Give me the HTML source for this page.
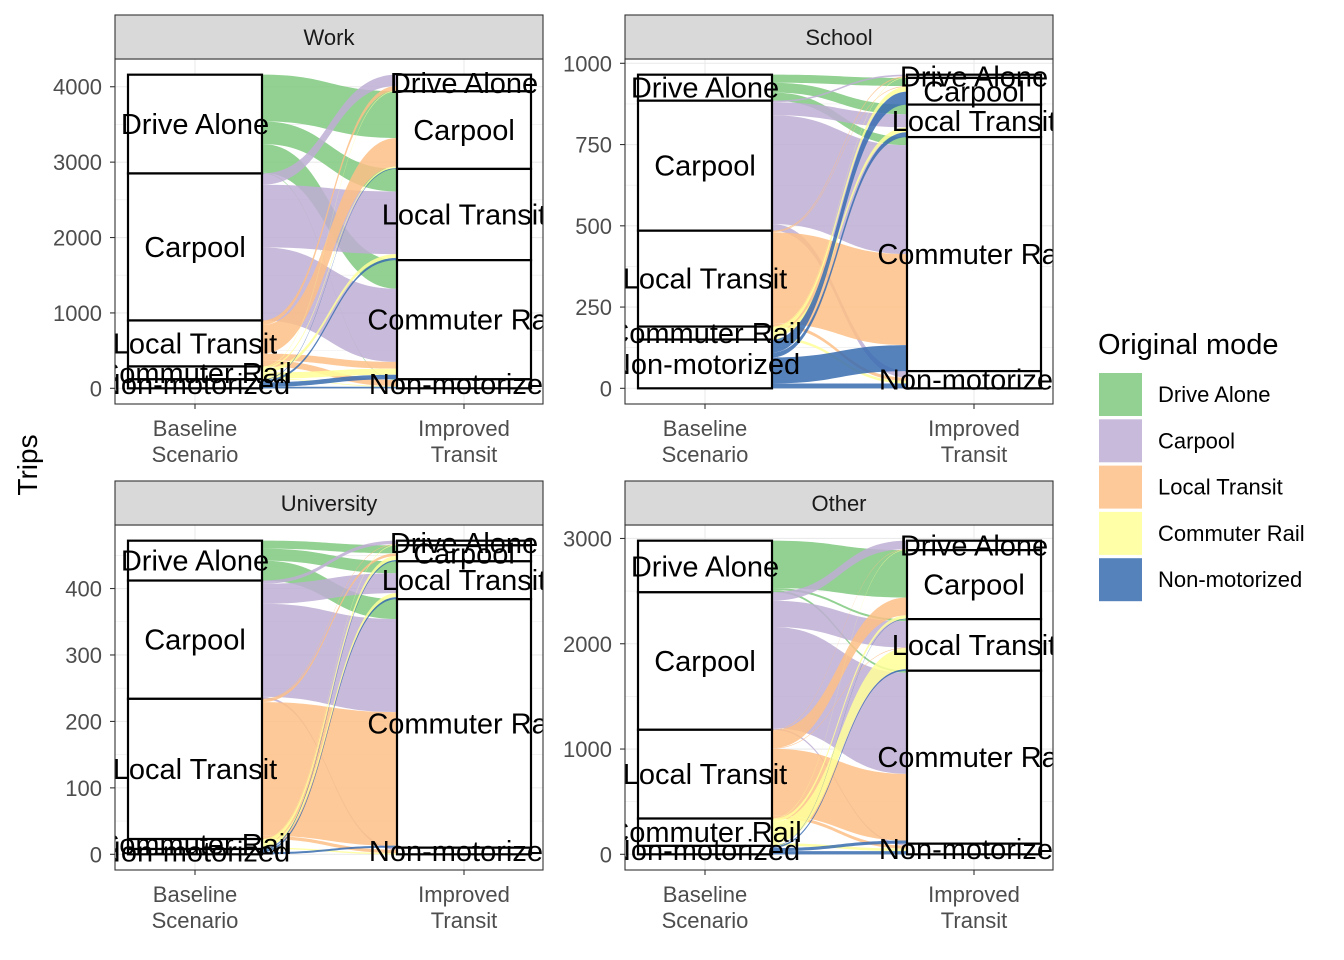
<!DOCTYPE html>
<html><head><meta charset="utf-8"><style>
body{margin:0;background:#fff;}
svg{display:block;font-family:"Liberation Sans",Arial,sans-serif;}
</style></head><body>
<svg id="chart" width="1344" height="960" viewBox="0 0 1344 960" xmlns="http://www.w3.org/2000/svg"></svg>
<script>
const modes = ["Drive Alone","Carpool","Local Transit","Commuter Rail","Non-motorized"];
const fills = ["#7FC97F","#BEAED4","#FDC086","#FFFF99","#386CB0"];
const facets = ["Work","School","University","Other"];
const axisLabels = [["Baseline","Scenario"],["Improved","Transit"]];
// flow matrices: rows = original mode, cols = new mode
const flowsWork = [[0,620,300,380,10],[150,0,830,970,0],[60,380,0,90,80],[10,20,50,80,10],[0,10,30,60,20]];
const flowsSchool = [[0,25,30,25,0],[5,0,40,335,20],[3,2,0,280,10],[2,15,15,0,8],[0,40,15,80,15]];
const flowsUniversity = [[0,12,18,30,0],[5,0,30,140,3],[1,4,0,201,5],[1,6,6,0,2],[0,2,3,3,0]];
const flowsOther = [[0,450,20,20,0],[80,0,250,960,16],[5,170,5,633,30],[5,30,200,0,25],[0,5,15,30,30]];
const ticksWork = [0,1000,2000,3000,4000];
const ticksSchool = [0,250,500,750,1000];
const ticksUniversity = [0,100,200,300,400];
const ticksOther = [0,1000,2000,3000];
const allFlows = [flowsWork,flowsSchool,flowsUniversity,flowsOther];
const allTicks = [ticksWork,ticksSchool,ticksUniversity,ticksOther];
const panelX = [115,625,115,625];
const stripY = [15,15,481,481];
const PW = 428, SH = 44, PH = 345;

const NS = "http://www.w3.org/2000/svg";
const svg = document.getElementById("chart");
function mk(tag, parent, attrs){
  const e = document.createElementNS(NS, tag);
  for (const k in attrs) e.setAttribute(k, attrs[k]);
  parent.appendChild(e);
  return e;
}
const defs = mk("defs", svg, {});

facets.forEach((fname, fi) => {
  const M = allFlows[fi], ticks = allTicks[fi];
  const px = panelX[fi], sy = stripY[fi], py = sy + SH;
  const g = mk("g", svg, {});
  
  
  const rowSum = M.map(r => r.reduce((a,b)=>a+b,0));
  const colSum = modes.map((_,j) => M.reduce((a,r)=>a+r[j],0));
  const total = rowSum.reduce((a,b)=>a+b,0);
  const lo = -0.05*total, hi = 1.05*total;
  const yS = v => py + PH - (v - lo)/(hi - lo)*PH;
  const xL0 = px + 13, xL1 = px + 147, xR0 = px + 282, xR1 = px + 416;
  const bg = mk("rect", g, {x:px,y:py,width:PW,height:PH,fill:"#fff"});
  
  
  const step = ticks[1]-ticks[0];
  for (let t = ticks[0]-step/2; t <= hi; t += step/2) {
    const y = yS(t); if (y < py || y > py+PH) continue;
    const major = ticks.includes(t);
    const gl = mk("line", g, {x1:px,x2:px+PW,y1:y,y2:y,stroke:"#EBEBEB","stroke-width":major?1.1:0.6});
    
    
  }
  [(xL0+xL1)/2,(xR0+xR1)/2].forEach(x => {
    const vl = mk("line", g, {x1:x,x2:x,y1:py,y2:py+PH,stroke:"#EBEBEB","stroke-width":1.1});
    
    
  });
  const cp = mk("clipPath", defs, {id:"clip"+fi});
  mk("rect", cp, {x:px,y:py,width:PW,height:PH});
  const inner = mk("g", g, {"clip-path":"url(#clip"+fi+")"});
  const leftTop = [], rightTop = [];
  let acc = total;
  for (let i=0;i<5;i++){ leftTop.push(acc); acc -= rowSum[i]; }
  acc = total;
  for (let j=0;j<5;j++){ rightTop.push(acc); acc -= colSum[j]; }
  const lOff = leftTop.slice(), rOff = rightTop.slice();
  const flowG = mk("g", inner, {});
  
  
  const segs = [];
  for (let i=0;i<5;i++){ for (let j=0;j<5;j++){
    const v = M[i][j]; if (v <= 0) continue;
    const lt = lOff[i]; lOff[i] -= v;
    segs.push({i,j,v,lt});
  }}
  const rPos = {};
  for (let j=0;j<5;j++){ for (let i=0;i<5;i++){
    const v = M[i][j]; if (v<=0) continue;
    rPos[i+"-"+j] = rOff[j]; rOff[j] -= v;
  }}
  segs.forEach(s => {
    const rt = rPos[s.i+"-"+s.j];
    const a = yS(s.lt), b = yS(s.lt - s.v), c = yS(rt), d = yS(rt - s.v);
    const xm = (xL1 + xR0)/2;
    const dstr = `M${xL1},${a} C${xm},${a} ${xm},${c} ${xR0},${c} L${xR0},${d} C${xm},${d} ${xm},${b} ${xL1},${b} Z`;
    const p = mk("path", flowG, {d:dstr, fill:fills[s.i], "fill-opacity":0.85, stroke:"none"});
    
    
  });
  const strG = mk("g", inner, {});
  [[xL0,leftTop,rowSum,'baseline'],[xR0,rightTop,colSum,'improved']].forEach(([x0,tops,sums,side]) => {
    for (let k=0;k<5;k++){
      const y0 = yS(tops[k]), y1 = yS(tops[k]-sums[k]);
      const r = mk("rect", strG, {x:x0,y:y0,width:134,height:Math.max(y1-y0,0.5),fill:"#fff",stroke:"#000","stroke-width":2.2});
      
      
    }
  });
  [[xL0,leftTop,rowSum],[xR0,rightTop,colSum]].forEach(([x0,tops,sums]) => {
    for (let k=0;k<5;k++){
      const ym = yS(tops[k]-sums[k]/2);
      const t = mk("text", strG, {x:x0+67,y:ym+10,"text-anchor":"middle","font-size":29,fill:"#000"});
      t.textContent = modes[k];
      
      
    }
  });
  const border = mk("rect", g, {x:px,y:py,width:PW,height:PH,fill:"none",stroke:"#333","stroke-width":1.1});
  
  
  const st = mk("rect", g, {x:px,y:sy,width:PW,height:SH,fill:"#D9D9D9",stroke:"#333","stroke-width":1.1});
  
  
  const stt = mk("text", g, {x:px+PW/2,y:sy+30,"text-anchor":"middle","font-size":22,fill:"#1a1a1a"});
  stt.textContent = fname;
  
  
  ticks.forEach(t => {
    const y = yS(t);
    const tk = mk("line", g, {x1:px-5,x2:px,y1:y,y2:y,stroke:"#333","stroke-width":1.1});
    
    
    const tl = mk("text", g, {x:px-13,y:y+8,"text-anchor":"end","font-size":22,fill:"#4d4d4d"});
    tl.textContent = t;
    
    
  });
  [(xL0+xL1)/2,(xR0+xR1)/2].forEach((x,k) => {
    const tk = mk("line", g, {x1:x,x2:x,y1:py+PH,y2:py+PH+5,stroke:"#333","stroke-width":1.1});
    
    
    axisLabels[k].forEach((line,li) => {
      const tl = mk("text", g, {x:x,y:py+PH+32+li*26,"text-anchor":"middle","font-size":22,fill:"#4d4d4d"});
      tl.textContent = line;
      
      
    });
  });
});
const yt = mk("text", svg, {x:0,y:0,transform:"translate(37,465) rotate(-90)","text-anchor":"middle","font-size":28,fill:"#000"});
yt.textContent = "Trips";


const lg = mk("g", svg, {});


const lt = mk("text", lg, {x:1098,y:354,"font-size":29,fill:"#000"});
lt.textContent = "Original mode";


modes.forEach((m,k) => {
  const y = 373 + k*46.3;
  const r = mk("rect", lg, {x:1099,y:y,width:43,height:43,fill:fills[k],"fill-opacity":0.85});
  
  
  const t = mk("text", lg, {x:1158,y:y+29,"font-size":22,fill:"#000"});
  t.textContent = m;
  
  
});
</script>
</body></html>
